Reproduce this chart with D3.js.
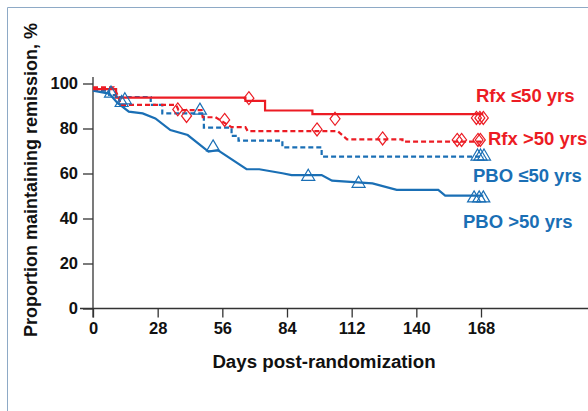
<!DOCTYPE html>
<html>
<head>
<meta charset="utf-8">
<script src="https://cdn.jsdelivr.net/npm/d3@7"></script>
<style>
  body { margin: 0; background: #fff; }
  svg { display: block; font-family: "Liberation Sans", Arial, sans-serif; }
</style>
</head>
<body>
<svg id="chart"></svg>
<script>
// tick values
const xTicks = [0, 28, 56, 84, 112, 140, 168];
const yTicks = [0, 20, 40, 60, 80, 100];

// curve vertices [day, % remission]
const rfxYoung = [[0, 97.5], [10, 97.5], [10, 93.7], [66, 93.7], [66, 92.3], [74.5, 92.3], [74.5, 88], [95, 88], [95, 86.4], [169, 86.4]];
const rfxOld = [[0, 98.3], [9, 98.3], [11, 94], [12, 90.5], [36, 90.5], [37, 88.2], [47, 88.2], [47.5, 85], [53, 85], [60, 80.6], [66, 80.6], [67, 78.8], [106, 78.8], [110, 75.2], [134, 75.2], [134, 74.2], [168, 74.2]];
const pboYoung = [[0, 96.8], [7, 96.8], [7, 94.9], [10, 94.9], [10, 94], [25, 94], [25, 90.5], [30, 90.5], [30, 86.7], [48, 86.7], [48, 80.4], [60, 80.4], [60, 76.7], [63, 76.7], [63, 74.6], [82, 74.6], [82, 71.6], [99, 71.6], [99, 67.5], [169, 67.5]];
const pboOld = [[0, 96.8], [7, 95.5], [10.5, 91.5], [15.5, 87.5], [21.5, 86.7], [27, 84.5], [33.5, 79.3], [41, 77.1], [50, 69.7], [54, 70.4], [66.5, 61.9], [72, 61.9], [82, 60.1], [86, 59.3], [99, 59.3], [103.5, 56.8], [121, 55.6], [131.5, 52.7], [149.5, 52.7], [152.5, 50.2], [169, 50.2]];

// censor marks [day, %]
const rfxMarks = [[67.5, 93.5], [104.8, 84.3], [166, 84.7], [167.5, 84.7], [169, 84.7],
                  [36.7, 88.5], [40.5, 85.6], [57, 83.8], [97, 79.6], [125.4, 75.6], [157.7, 74.9], [159.6, 74.9], [166.7, 74.9], [167.7, 74.9]];
const pboMarks = [[7.8, 96.2], [12.4, 92], [13.8, 93.2], [46.3, 88.6], [52, 72.3], [93.2, 59.2], [115, 56.1], [165, 49.6], [167.2, 49.6], [169, 49.6],
                  [166.5, 68.2], [167.8, 68.2], [169.3, 68.2]];

const labels = [
  { text: "Rfx \u226450 yrs", x: 476, y: 102, color: "#ec1c24" },
  { text: "Rfx >50 yrs", x: 488, y: 145, color: "#ec1c24" },
  { text: "PBO \u226450 yrs", x: 473, y: 182, color: "#1a6fb5" },
  { text: "PBO >50 yrs", x: 463, y: 228, color: "#1a6fb5" }
];

const width = 588;
const height = 411;
const red = "#ec1c24";
const blue = "#1a6fb5";

const svg = d3.select("#chart")
  .attr("width", width)
  .attr("height", height);

// frame (only top/left edges visible)
svg.append("path")
  .attr("d", "M7.5,411V7.5H588")
  .attr("fill", "none")
  .attr("stroke", "#8eaac6")
  .attr("stroke-width", 1);

const x = d3.scaleLinear().domain([0, 168]).range([93, 481]);
const y = d3.scaleLinear().domain([0, 100]).range([308.5, 83.5]);

// x axis
const xAxis = svg.append("g")
  .attr("transform", `translate(0,${y(0)})`)
  .call(d3.axisBottom(x).tickValues(xTicks).tickSize(9).tickPadding(5));
xAxis.select(".domain").remove();
xAxis.append("line")
  .attr("x1", 80).attr("x2", width)
  .attr("stroke", "#333").attr("stroke-width", 1.3);
xAxis.selectAll(".tick line").attr("stroke", "#333").attr("stroke-width", 1.3);
xAxis.selectAll(".tick text")
  .attr("fill", "#111")
  .style("font-size", "16.5px")
  .style("font-weight", "bold");

// y axis
const yAxis = svg.append("g")
  .attr("transform", `translate(${x(0)},0)`)
  .call(d3.axisLeft(y).tickValues(yTicks).tickSize(10).tickPadding(5));
yAxis.select(".domain").remove();
yAxis.append("line")
  .attr("y1", 77).attr("y2", y(0) + 9)
  .attr("stroke", "#333").attr("stroke-width", 1.3);
yAxis.selectAll(".tick line").attr("stroke", "#333").attr("stroke-width", 1.3);
yAxis.selectAll(".tick text")
  .attr("fill", "#111")
  .style("font-size", "16.5px")
  .style("font-weight", "bold");

// axis titles
svg.append("text")
  .attr("x", 324)
  .attr("y", 368)
  .attr("text-anchor", "middle")
  .attr("fill", "#111")
  .style("font-size", "18.7px")
  .style("font-weight", "bold")
  .text("Days post-randomization");

svg.append("text")
  .attr("transform", "translate(37,180) rotate(-90)")
  .attr("text-anchor", "middle")
  .attr("fill", "#111")
  .style("font-size", "18px")
  .style("font-weight", "bold")
  .text("Proportion maintaining remission, %");

const line = d3.line()
  .x(d => x(d[0]))
  .y(d => y(d[1]));

const series = [
  { data: pboYoung, color: blue, dash: "5,3" },
  { data: pboOld, color: blue, dash: null },
  { data: rfxOld, color: red, dash: "5,3" },
  { data: rfxYoung, color: red, dash: null }
];

svg.append("g")
  .selectAll("path")
  .data(series)
  .join("path")
    .attr("fill", "none")
    .attr("stroke", d => d.color)
    .attr("stroke-width", 2.2)
    .attr("stroke-dasharray", d => d.dash)
    .attr("d", d => line(d.data));

// triangles
svg.append("g")
  .selectAll("path")
  .data(pboMarks)
  .join("path")
    .attr("transform", d => `translate(${x(d[0])},${y(d[1])})`)
    .attr("d", "M0,-6L6.5,5H-6.5Z")
    .attr("fill", "none")
    .attr("stroke", blue)
    .attr("stroke-width", 1.2);

// diamonds
svg.append("g")
  .selectAll("path")
  .data(rfxMarks)
  .join("path")
    .attr("transform", d => `translate(${x(d[0])},${y(d[1])})`)
    .attr("d", "M0,-6.5L5,0L0,6.5L-5,0Z")
    .attr("fill", "none")
    .attr("stroke", red)
    .attr("stroke-width", 1.2);

// group labels
svg.append("g")
  .selectAll("text")
  .data(labels)
  .join("text")
    .attr("x", d => d.x)
    .attr("y", d => d.y)
    .attr("fill", d => d.color)
    .style("font-size", "18.5px")
    .style("font-weight", "bold")
    .text(d => d.text);
</script>
</body>
</html>
